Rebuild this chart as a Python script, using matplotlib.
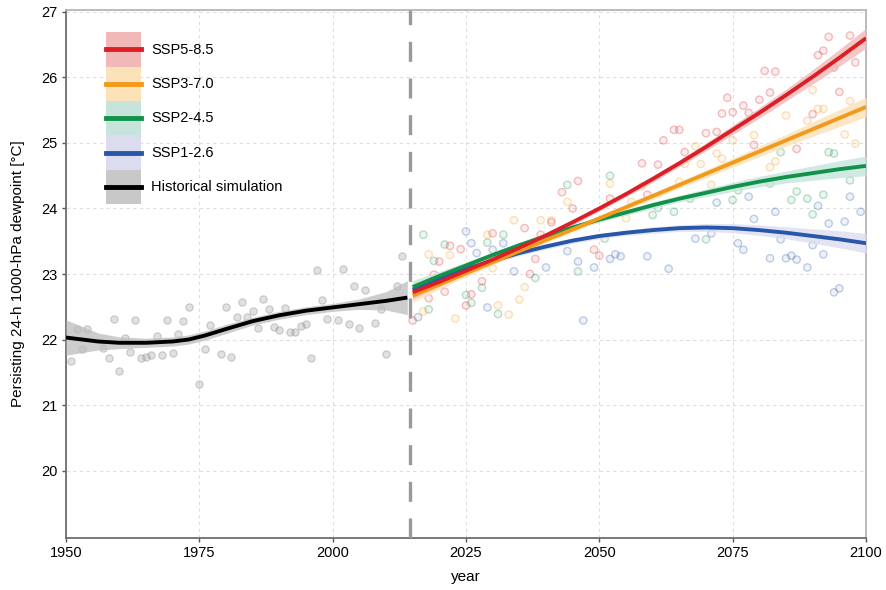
import matplotlib.pyplot as plt
from matplotlib.legend_handler import HandlerLine2D, HandlerTuple
from matplotlib.lines import Line2D
from matplotlib.patches import Patch

plt.rcParams["font.family"] = ["Liberation Sans", "DejaVu Sans"]

# ---- historical simulation ----
hist_years = [1951, 1952, 1953, 1954, 1957, 1958, 1959, 1960, 1961, 1962,
              1963, 1964, 1965, 1966, 1967, 1968, 1969, 1970, 1971, 1972,
              1973, 1975, 1976, 1977, 1979, 1980, 1981, 1982, 1983, 1984,
              1985, 1986, 1987, 1988, 1989, 1990, 1991, 1992, 1993, 1994,
              1995, 1996, 1997, 1998, 1999, 2001, 2002, 2003, 2004, 2005,
              2006, 2008, 2009, 2010, 2012, 2013]
hist_vals = [21.67, 22.16, 21.85, 22.16, 21.87, 21.72, 22.31, 21.52, 22.02, 21.81,
             22.30, 21.72, 21.73, 21.77, 22.05, 21.77, 22.30, 21.79, 22.08, 22.28,
             22.49, 21.32, 21.86, 22.22, 21.78, 22.49, 21.74, 22.35, 22.57, 22.34,
             22.43, 22.18, 22.62, 22.46, 22.19, 22.15, 22.48, 22.12, 22.12, 22.20,
             22.23, 21.72, 23.06, 22.61, 22.32, 22.30, 23.08, 22.24, 22.81, 22.17,
             22.76, 22.25, 22.47, 21.78, 22.82, 23.27]

hist_fit_years = [1950, 1953, 1956, 1960, 1965, 1970, 1973, 1976, 1980, 1985,
                  1990, 1995, 2000, 2005, 2010, 2014]
hist_fit = [22.03, 22.00, 21.97, 21.95, 21.95, 21.97, 22.00, 22.06, 22.16, 22.28,
            22.37, 22.44, 22.49, 22.54, 22.59, 22.64]
hist_band = [0.27, 0.20, 0.13, 0.09, 0.07, 0.07, 0.07, 0.07, 0.07, 0.06,
             0.06, 0.06, 0.06, 0.08, 0.14, 0.26]

# ---- scenario trends ----
ssp_years = [2015, 2020, 2025, 2030, 2035, 2040, 2045, 2050, 2055, 2060,
             2065, 2070, 2075, 2080, 2085, 2090, 2095, 2100]
ssp585_fit = [22.72, 22.88, 23.05, 23.22, 23.40, 23.59, 23.79, 24.00, 24.22, 24.45,
              24.69, 24.94, 25.20, 25.46, 25.73, 26.01, 26.30, 26.60]
ssp370_fit = [22.67, 22.84, 23.01, 23.18, 23.35, 23.52, 23.68, 23.85, 24.02, 24.19,
              24.36, 24.53, 24.70, 24.87, 25.04, 25.21, 25.38, 25.55]
ssp245_fit = [22.80, 22.97, 23.13, 23.29, 23.44, 23.58, 23.71, 23.83, 23.94, 24.05,
              24.15, 24.24, 24.33, 24.41, 24.48, 24.54, 24.60, 24.65]
ssp126_fit = [22.76, 22.93, 23.08, 23.20, 23.32, 23.42, 23.51, 23.58, 23.63, 23.67,
              23.70, 23.71, 23.70, 23.67, 23.63, 23.58, 23.53, 23.47]
ssp_band = [0.10, 0.07, 0.05, 0.04, 0.04, 0.04, 0.04, 0.04, 0.04, 0.05,
            0.05, 0.06, 0.07, 0.08, 0.09, 0.11, 0.13, 0.15]

# ---- scenario scatter ----
ssp585_years = [2093, 2097, 2091, 2092, 2098, 2094, 2081, 2083, 2082, 2095,
                2080, 2074, 2077, 2073, 2075, 2078, 2090, 2087, 2079, 2070,
                2072, 2064, 2065, 2062, 2058, 2061, 2059, 2066, 2046, 2043,
                2045, 2052, 2036, 2030, 2022, 2024, 2020, 2028, 2025, 2026,
                2037, 2038, 2018, 2015, 2049, 2050, 2041, 2039, 2021, 2019]
ssp585_vals = [26.62, 26.64, 26.34, 26.41, 26.23, 26.15, 26.10, 26.09, 25.77, 25.78,
               25.66, 25.69, 25.57, 25.45, 25.47, 25.46, 25.44, 24.91, 24.97, 25.15,
               25.17, 25.20, 25.20, 25.04, 24.69, 24.67, 24.21, 24.86, 24.42, 24.25,
               24.00, 24.15, 23.70, 23.62, 23.43, 23.38, 23.19, 22.89, 22.52, 22.69,
               23.00, 23.23, 22.63, 22.29, 23.37, 23.28, 23.79, 23.60, 22.73, 22.99]

ssp370_years = [2091, 2092, 2090, 2089, 2097, 2096, 2098, 2085, 2082, 2083,
                2079, 2075, 2072, 2073, 2068, 2069, 2066, 2071, 2058, 2052,
                2056, 2044, 2041, 2039, 2034, 2018, 2022, 2029, 2035, 2036,
                2031, 2033, 2023, 2017, 2030, 2065, 2055]
ssp370_vals = [25.52, 25.52, 25.81, 25.34, 25.64, 25.13, 24.99, 25.42, 24.63, 24.72,
               25.12, 25.04, 24.84, 24.76, 24.95, 24.68, 24.68, 24.36, 24.34, 24.38,
               24.10, 24.10, 23.82, 23.82, 23.82, 23.30, 23.29, 23.60, 22.61, 22.80,
               22.52, 22.38, 22.32, 22.43, 23.09, 24.41, 23.85]

ssp245_years = [2093, 2094, 2090, 2092, 2087, 2084, 2089, 2076, 2075, 2070,
                2067, 2064, 2061, 2052, 2044, 2017, 2021, 2019, 2032, 2029,
                2025, 2026, 2028, 2031, 2038, 2046, 2051, 2060, 2086, 2018,
                2097, 2082]
ssp245_vals = [24.86, 24.84, 23.91, 24.21, 24.26, 24.86, 24.15, 24.28, 24.13, 23.53,
               24.15, 23.95, 24.01, 24.50, 24.36, 23.60, 23.45, 23.20, 23.60, 23.48,
               22.68, 22.56, 22.79, 22.39, 22.94, 23.04, 23.54, 23.90, 24.13, 22.46,
               24.43, 24.38]

ssp126_years = [2025, 2026, 2027, 2032, 2030, 2034, 2040, 2044, 2046, 2049,
                2052, 2053, 2054, 2059, 2063, 2047, 2029, 2016, 2068, 2071,
                2072, 2076, 2077, 2079, 2082, 2084, 2085, 2086, 2087, 2083,
                2089, 2090, 2092, 2093, 2094, 2095, 2096, 2097, 2099, 2091,
                2078]
ssp126_vals = [23.65, 23.47, 23.32, 23.47, 23.37, 23.04, 23.10, 23.35, 23.19, 23.10,
               23.23, 23.30, 23.27, 23.27, 23.08, 22.29, 22.49, 22.34, 23.54, 23.62,
               24.09, 23.47, 23.37, 23.84, 23.24, 23.53, 23.24, 23.28, 23.22, 23.95,
               23.10, 23.44, 23.30, 23.77, 22.72, 22.78, 23.80, 24.18, 23.95, 24.04,
               24.18]

labels = ["SSP5-8.5", "SSP3-7.0", "SSP2-4.5", "SSP1-2.6", "Historical simulation"]
line_colors = ["#dc1f26", "#f29a1c", "#11924a", "#2757a8", "#000000"]
band_colors = ["#f2b8b8", "#fbe2b8", "#c6e4dc", "#dcdcef", "#c8c8c8"]

scen_fits = [ssp585_fit, ssp370_fit, ssp245_fit, ssp126_fit]
scen_pts = [(ssp585_years, ssp585_vals), (ssp370_years, ssp370_vals),
            (ssp245_years, ssp245_vals), (ssp126_years, ssp126_vals)]


class CenteredLine(HandlerLine2D):
    # put the legend line in the middle of the coloured block
    def create_artists(self, legend, orig_handle, xdescent, ydescent,
                       width, height, fontsize, trans):
        artists = super().create_artists(legend, orig_handle, xdescent, ydescent,
                                         width, height, fontsize, trans)
        for a in artists:
            a.set_ydata([height / 2 - ydescent] * len(a.get_xdata()))
        return artists


fig = plt.figure(figsize=(8.87, 5.90), dpi=100)
ax = fig.add_axes([66 / 887, 52 / 590, 800 / 887, 528 / 590])

ax.grid(True, color="#dedede", linestyle=(0, (3, 3)), linewidth=0.8, zorder=0)

# points
ax.scatter(hist_years, hist_vals, s=28, facecolor=(0.6, 0.6, 0.6, 0.3),
           edgecolor=(0.55, 0.55, 0.55, 0.4), linewidth=0.8, zorder=2)
for (yrs, vals), c in zip(scen_pts[::-1], line_colors[3::-1]):
    ax.scatter(yrs, vals, s=28, facecolor="none", edgecolor=c, alpha=0.28,
               linewidth=1.0, zorder=2)
    ax.scatter(yrs, vals, s=28, facecolor=c, edgecolor="none", alpha=0.08, zorder=2)

# confidence bands and fitted lines
lo = [v - b for v, b in zip(hist_fit, hist_band)]
hi = [v + b for v, b in zip(hist_fit, hist_band)]
ax.fill_between(hist_fit_years, lo, hi, color="#bdbdbd", alpha=0.75, lw=0, zorder=3)
ax.plot(hist_fit_years, hist_fit, color="black", lw=2.8, zorder=5,
        solid_capstyle="butt", solid_joinstyle="round")

for fit, c, bc in zip(scen_fits[::-1], line_colors[3::-1], band_colors[3::-1]):
    lo = [v - b for v, b in zip(fit, ssp_band)]
    hi = [v + b for v, b in zip(fit, ssp_band)]
    ax.fill_between(ssp_years, lo, hi, color=bc, alpha=0.8, lw=0, zorder=3)
for fit, c in zip(scen_fits[::-1], line_colors[3::-1]):
    ax.plot(ssp_years, fit, color=c, lw=2.8, zorder=5, solid_capstyle="butt",
            solid_joinstyle="round")

ax.axvline(2014.5, color="#9a9a9a", lw=2.4, linestyle=(0, (6.0, 5.0)), zorder=4)

ax.set_xlim(1950, 2100)
ax.set_ylim(18.97, 27.03)
ax.set_xticks([1950, 1975, 2000, 2025, 2050, 2075, 2100])
ax.set_yticks([20, 21, 22, 23, 24, 25, 26, 27])
ax.tick_params(axis="both", labelsize=10.5, length=3, width=1, color="#555555",
               pad=3)
ax.set_xlabel("year", fontsize=11, labelpad=7)
ax.set_ylabel("Persisting 24-h 1000-hPa dewpoint [\u00b0C]", fontsize=11, labelpad=12)

for side in ["left", "bottom"]:
    ax.spines[side].set_color("#6e6e6e")
    ax.spines[side].set_linewidth(1.3)
for side in ["top", "right"]:
    ax.spines[side].set_color("#b5b5b5")
    ax.spines[side].set_linewidth(1.3)

handles = [(Patch(facecolor=bc, edgecolor="none"), Line2D([], [], color=c, lw=3.5))
           for c, bc in zip(line_colors, band_colors)]
ax.legend(handles, labels, loc="upper left", bbox_to_anchor=(0.05, 0.958),
          frameon=False, fontsize=10.5, labelspacing=0, handleheight=3.25,
          handlelength=2.4, handletextpad=0.7, borderpad=0, borderaxespad=0,
          handler_map={tuple: HandlerTuple(ndivide=1), Line2D: CenteredLine()})

fig.savefig("out.png", dpi=100)
